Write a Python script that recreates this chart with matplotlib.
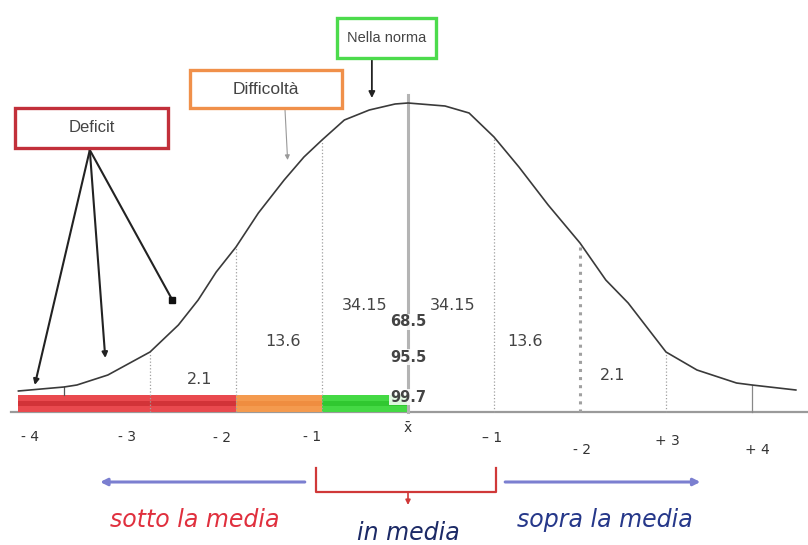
"""
Curva normale con fasce di prestazione (Deficit / Difficoltà / Nella norma)
"""
import matplotlib
matplotlib.use('Agg')
import matplotlib.pyplot as plt
from matplotlib.patches import Rectangle

plt.rcParams['font.family'] = ['Liberation Sans', 'DejaVu Sans']

# ─── DATI ────────────────────────────────────────────────────────────────────
# curva: ascissa in deviazioni standard, altezza in unità arbitrarie
curve_sigma = [-4.53, -4.0, -3.85, -3.49, -3.0, -2.67, -2.44, -2.23, -2.0,
               -1.74, -1.44, -1.21, -1.0, -0.74, -0.45, -0.15, 0.0, 0.43,
               0.71, 1.0, 1.29, 1.63, 2.0, 2.30, 2.56, 3.0, 3.36, 3.82, 4.0, 4.51]
curve_height = [21, 25, 27, 37, 60, 87, 112, 140, 165,
                199, 232, 255, 272, 292, 302, 308, 309, 306,
                299, 275, 245, 207, 169, 132, 109, 60, 42, 29, 27, 22]

sd_lines = [-3, -2, -1, 1, 2, 3]
sd_line_top = [60, 165, 272, 275, 169, 60]

tick_labels = ['- 4', '- 3', '- 2', '- 1', 'x\u0304', '– 1', '- 2', '+ 3', '+ 4']
tick_pos = [-4.40, -3.27, -2.16, -1.12, 0.0, 0.98, 2.02, 3.02, 4.06]
tick_h = [-25, -25, -26, -25, -16, -26, -38, -29, -38]

pct_labels = ['34.15', '34.15', '13.6', '13.6', '2.1', '2.1']
pct_pos = [-0.50, 0.52, -1.45, 1.36, -2.42, 2.38]
pct_h = [107, 107, 70, 70, 32, 37]

cum_labels = ['68.5', '95.5', '99.7']
cum_h = [90, 55, 15]

# fasce colorate sotto la media
band_edges = [-4.53, -2.0, -1.0, 0.0]
band_colors = ['#e9494e', '#f49a4e', '#44d944']
band_stripe = ['#d23338', '#ef8d40', '#30c830']

# ─── FIGURA ──────────────────────────────────────────────────────────────────
fig = plt.figure(figsize=(8.08, 5.45), dpi=100)
ax = fig.add_axes([0, 0, 1, 1])
ax.set_xlim(-408 / 86, 400 / 86)
ax.set_ylim(-133, 412)
ax.axis('off')

# asse orizzontale
ax.plot([-4.62, 4.7], [0, 0], color='#9a9a9a', lw=1.6, zorder=1)

# fasce
for i, c in enumerate(band_colors):
    x0, x1 = band_edges[i], band_edges[i + 1]
    ax.bar(x0, 17, width=x1 - x0, bottom=0, align='edge', color=c, lw=0, zorder=2)
    ax.bar(x0, 5, width=x1 - x0, bottom=6, align='edge', color=band_stripe[i], lw=0, zorder=2)

# linee delle deviazioni standard
for x, top in zip(sd_lines, sd_line_top):
    lw = 2.2 if x == 2 else 0.9
    ax.plot([x, x], [0, top], color='#a0a0a0', lw=lw, ls=':', zorder=3)
ax.plot([-4.0, -4.0], [17, 25], color='#555555', lw=0.9, zorder=3)
ax.plot([4.0, 4.0], [0, 27], color='#888888', lw=0.9, zorder=3)

# linea della media
ax.plot([0, 0], [0, 317], color='#b4b4b4', lw=2.2, zorder=3)

# curva
ax.plot(curve_sigma, curve_height, color='#3a3a3a', lw=1.2, zorder=4)

# percentuali
for lab, x, h in zip(pct_labels, pct_pos, pct_h):
    ax.text(x, h, lab, ha='center', va='center', fontsize=11.5, color='#444444',
            family=['DejaVu Sans'], zorder=5)
for lab, h in zip(cum_labels, cum_h):
    ax.text(0, h, lab, ha='center', va='center', fontsize=10.5, fontweight='bold',
            color='#444444', family=['DejaVu Sans'], zorder=5,
            bbox=dict(boxstyle='square,pad=0.05', fc='white', ec='none', alpha=0.85))

# etichette asse
for lab, x, h in zip(tick_labels, tick_pos, tick_h):
    ax.text(x, h, lab, ha='center', va='center', fontsize=10, color='#333333',
            family=['DejaVu Sans'])

# ─── RIQUADRI ────────────────────────────────────────────────────────────────
boxes = [
    ('Deficit', -4.57, -2.79, 264, 304, '#c2303a', 12),
    ('Difficoltà', -2.53, -0.77, 304, 342, '#f0904a', 12.5),
    ('Nella norma', -0.83, 0.33, 354, 394, '#4cdb4c', 10.5),
]
for lab, x0, x1, y0, y1, ec, fs in boxes:
    ax.add_patch(Rectangle((x0, y0), x1 - x0, y1 - y0, fc='white', ec=ec, lw=2.4, zorder=6))
    ax.text((x0 + x1) / 2, (y0 + y1) / 2, lab, ha='center', va='center',
            fontsize=fs, color='#444444', zorder=7)

# frecce Deficit
src = (-3.70, 262)
for tgt in [(-4.34, 27), (-3.52, 54)]:
    ax.annotate('', xy=tgt, xytext=src,
                arrowprops=dict(arrowstyle='-|>', color='#222222', lw=1.5,
                                mutation_scale=8, shrinkA=0, shrinkB=0))
ax.plot([src[0], -2.74], [src[1], 112], color='#222222', lw=1.5, zorder=5)
ax.plot(-2.74, 112, marker='s', ms=5, color='#111111', zorder=5)

# freccia Difficoltà
ax.annotate('', xy=(-1.40, 252), xytext=(-1.43, 302),
            arrowprops=dict(arrowstyle='-|>', color='#999999', lw=0.8,
                            mutation_scale=7, shrinkA=0, shrinkB=0))
# freccia Nella norma
ax.annotate('', xy=(-0.42, 314), xytext=(-0.42, 354),
            arrowprops=dict(arrowstyle='-|>', color='#222222', lw=1.3,
                            mutation_scale=9, shrinkA=0, shrinkB=0))

# ─── LEGENDA INFERIORE ───────────────────────────────────────────────────────
ax.annotate('', xy=(-3.58, -70), xytext=(-1.20, -70),
            arrowprops=dict(arrowstyle='-|>', color='#7b7fd0', lw=2.2,
                            mutation_scale=10, shrinkA=0, shrinkB=0))
ax.annotate('', xy=(3.40, -70), xytext=(1.13, -70),
            arrowprops=dict(arrowstyle='-|>', color='#7b7fd0', lw=2.2,
                            mutation_scale=10, shrinkA=0, shrinkB=0))
ax.plot([-1.07, -1.07, 1.02, 1.02], [-56, -80, -80, -56], color='#d03838', lw=1.6)
ax.annotate('', xy=(0, -93), xytext=(0, -80),
            arrowprops=dict(arrowstyle='-|>', color='#d03838', lw=1.2,
                            mutation_scale=7, shrinkA=0, shrinkB=0))

ax.text(-2.48, -108, 'sotto la media', ha='center', va='center', fontsize=17,
        style='italic', color='#e0303e', family=['DejaVu Sans'])
ax.text(0, -121, 'in media', ha='center', va='center', fontsize=17,
        style='italic', color='#1c2a66', family=['DejaVu Sans'])
ax.text(2.29, -108, 'sopra la media', ha='center', va='center', fontsize=17,
        style='italic', color='#26388a', family=['DejaVu Sans'])

plt.savefig('out.png', dpi=100)
plt.close()
